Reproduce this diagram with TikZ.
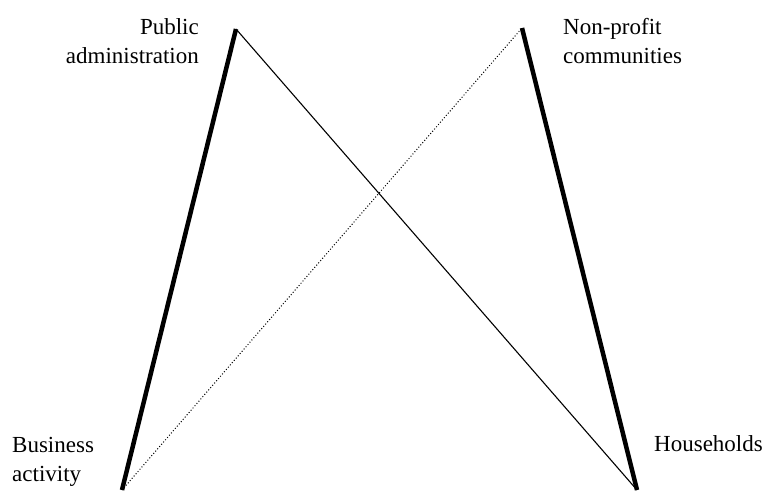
\documentclass[tikz,border=0pt]{standalone}
\usepackage{fontspec}
\setmainfont{Liberation Serif}
\begin{document}
\begin{tikzpicture}[x=1pt,y=-1pt,
  lbl/.style={inner sep=0pt,font=\fontsize{23}{29}\selectfont},
  heavy/.style={line width=4.5pt,line cap=butt},
  light/.style={line width=1.1pt},
  dots/.style={line width=1pt,dash pattern=on 1pt off 2pt}]
\useasboundingbox (0,0) rectangle (768,492);
\coordinate (pa) at (236,29);
\coordinate (ba) at (122,490);
\coordinate (np) at (522,28);
\coordinate (hh) at (637,490);
\node[lbl,align=right,anchor=base east] (tpa) at (199,64) {Public\\administration};
\node[lbl,align=left,anchor=base west] (tnp) at (563,64) {Non-profit\\communities};
\node[lbl,align=left,anchor=base west] (tba) at (12,481) {Business\\activity};
\node[lbl,anchor=base west] (thh) at (654,451) {Households};
\draw[heavy] (ba) -- (pa);
\draw[heavy] (np) -- (hh);
\draw[light] (pa) -- (hh);
\draw[dots] (ba) -- (np);
\end{tikzpicture}
\end{document}
